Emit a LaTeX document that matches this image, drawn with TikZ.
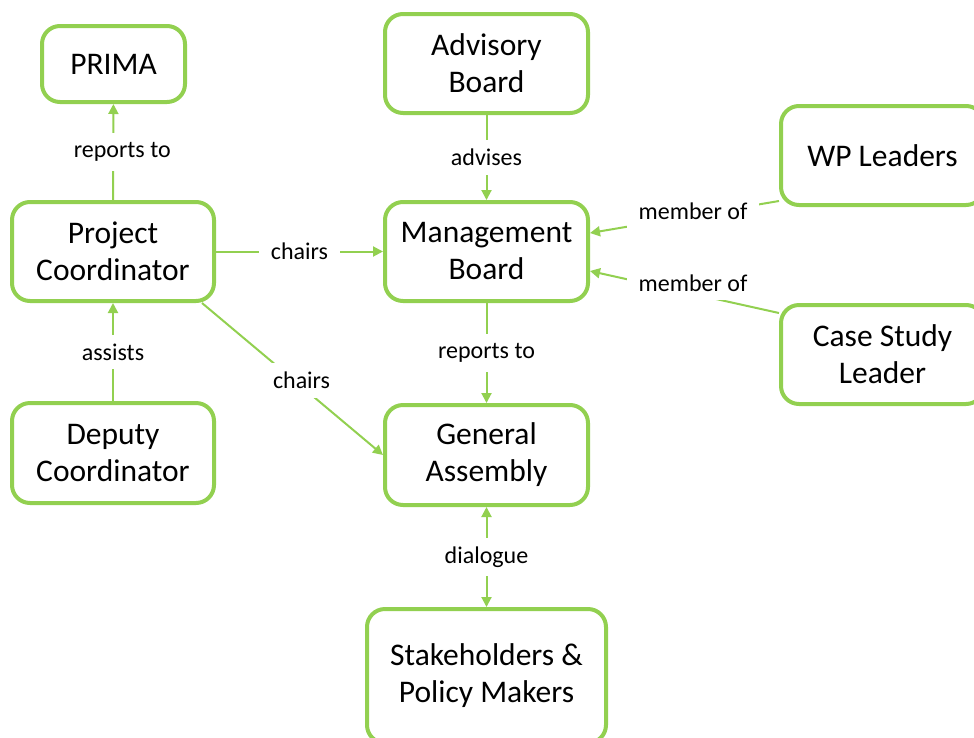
\documentclass[tikz,border=0pt]{standalone}
\usepackage{fontspec}
\setmainfont{Carlito}
\usetikzlibrary{arrows.meta,calc}
\definecolor{leaf}{RGB}{146,208,80}
\begin{document}
\begin{tikzpicture}[x=1pt,y=-1pt,
  box/.style={draw=leaf, line width=4pt, rounded corners=18pt, fill=white,
    align=center, inner sep=0pt, text=black,
    font=\fontsize{31.5}{37}\selectfont},
  link/.style={draw=leaf, line width=2pt, -{Triangle[length=10pt,width=10pt]}},
  lab/.style={fill=white, text=black, inner xsep=12pt, inner ysep=9pt,
    font=\fontsize{24}{28}\selectfont}]
\useasboundingbox (0,0) rectangle (974,737);
\clip (0,0) rectangle (974,737);

% boxes
\node[box, minimum width=143pt, minimum height=76pt] (prima) at (113.5,64) {PRIMA};
\node[box, minimum width=202pt, minimum height=99pt] (pc) at (113,251.5) {Project\\Coordinator};
\node[box, minimum width=202pt, minimum height=100pt] (dc) at (113,453) {Deputy\\Coordinator};
\node[box, minimum width=203pt, minimum height=99pt] (ab) at (486.5,63.5) {Advisory\\Board};
\node[box, minimum width=203pt, minimum height=99pt] (mb) at (486.5,251.5) {Management\\Board};
\node[box, minimum width=203pt, minimum height=100pt] (ga) at (486.5,455) {General\\Assembly};
\node[box, minimum width=239pt, minimum height=134pt] (spm) at (486.5,676) {Stakeholders \&\\Policy Makers};
\node[box, minimum width=203pt, minimum height=99pt] (wp) at (882.5,155.5) {WP Leaders};
\node[box, minimum width=203pt, minimum height=99pt] (csl) at (882.5,354.5) {Case Study\\Leader};

% connectors
\draw[link] (pc) -- node[lab, xshift=9pt] {reports to} (prima);
\draw[link] (dc) -- node[lab] {assists} (pc);
\draw[link] (pc.east) -- node[lab] {chairs} (mb.west);
\draw[link] ($(pc.south east)+(-14,0)$) -- node[lab, pos=0.55, yshift=6pt] {chairs} (ga.west);
\draw[link] (ab) -- node[lab] {advises} (mb);
\draw[link] (mb) -- node[lab] {reports to} (ga);
\draw[link, {Triangle[length=10pt,width=10pt]}-{Triangle[length=10pt,width=10pt]}]
  (ga) -- node[lab] {dialogue} (spm);
\draw[link] ($(wp.south west)+(0,-6)$) -- node[lab, pos=0.455, yshift=4pt] {member of} ($(mb.east)+(0,-18.5)$);
\draw[link] ($(csl.north west)+(0,10)$) -- node[lab, pos=0.455, yshift=11pt] {member of} ($(mb.east)+(0,19.5)$);
\end{tikzpicture}
\end{document}
